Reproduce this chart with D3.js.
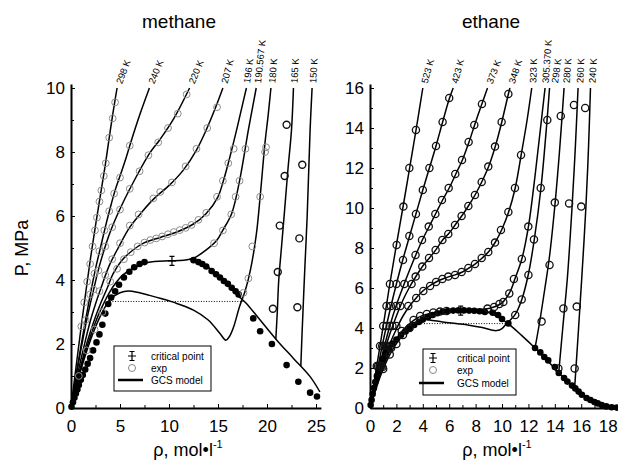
<!DOCTYPE html>
<html>
<head>
<meta charset="utf-8">
<script src="https://cdn.jsdelivr.net/npm/d3@7"></script>
<style>
  body { margin: 0; background: #fff; }
  text { font-family: "Liberation Sans", Arial, Helvetica, sans-serif; fill: #000; }
</style>
</head>
<body>
<svg id="chart" width="618" height="464"></svg>
<script>
// ---------------- methane (rho in mol/l, P in MPa) ----------------
const ch4Temps = ["298 K", "240 K", "220 K", "207 K", "196 K", "190.567 K", "180 K", "165 K", "150 K"];

const ch4_298 = [[0,0],[0.5,1.25],[1,2.45],[1.5,3.6],[2,4.7],[2.5,5.7],[3,6.65],[3.5,7.6],[4,8.65],[4.35,9.35],[4.7,10]];
const ch4_240 = [[0,0],[0.5,1.0],[1,1.9],[1.5,2.78],[2,3.6],[2.5,4.35],[3,5.0],[3.5,5.65],[4,6.25],[4.5,6.8],[5,7.25],[5.6,7.8],[6.2,8.4],[7,9.15],[8,10]];
const ch4_220 = [[0,0],[0.5,0.95],[1,1.8],[1.5,2.6],[2,3.3],[2.5,3.95],[3,4.55],[4,5.5],[5.2,6.35],[6.7,7.25],[8,7.95],[9.1,8.4],[10.5,9.05],[12.1,10]];
const ch4_207 = [[0,0],[0.5,0.8],[1,1.5],[1.5,2.15],[2,2.75],[2.5,3.25],[3.06,3.75],[3.9,4.45],[4.9,5.05],[6.0,5.65],[7.3,6.15],[8.5,6.55],[10.1,6.98],[11.5,7.45],[12.8,8.06],[13.8,8.69],[14.7,9.35],[15.5,10]];
const ch4_196 = [[0,0],[0.5,0.7],[1,1.3],[1.5,1.9],[2,2.4],[2.5,2.85],[3,3.25],[3.7,3.75],[4.3,4.2],[5.2,4.62],[6.3,4.93],[7.4,5.15],[9.1,5.33],[10.8,5.5],[12.5,5.75],[13.8,6.08],[15.0,6.6],[15.5,7.05],[16.05,7.65],[16.9,8.69],[17.4,9.35],[17.9,10]];
const ch4_190 = [[0,0],[0.5,0.66],[1,1.25],[1.5,1.78],[2,2.25],[2.5,2.68],[3,3.05],[3.9,3.6],[4.6,3.92],[5.3,4.16],[6.3,4.36],[7.5,4.52],[8.5,4.58],[10.1,4.6],[11.5,4.62],[12.5,4.68],[13.8,4.94],[14.9,5.25],[15.5,5.56],[16.4,6.08],[17.2,7.1],[18.1,8.69],[18.5,9.35],[18.9,10]];
const ch4_180 = [[0,0],[0.5,0.62],[1,1.18],[1.5,1.68],[2,2.13],[2.5,2.53],[3,2.88],[3.5,3.17],[4,3.4],[5,3.6],[5.85,3.66],[7,3.6],[8,3.52],[9.1,3.43],[10.5,3.3],[12.5,3.06],[14,2.75],[15.2,2.33],[15.8,2.12],[16.2,2.25],[16.6,2.54],[17.2,3.17],[17.8,3.69],[18.3,4.3],[18.9,5.4],[19.3,6.6],[19.8,8.3],[20.1,9.1],[20.4,10]];
const ch4_165 = [[20.9,2.15],[21.05,3.0],[21.2,4.0],[21.5,5.1],[21.8,6.2],[22.15,7.5],[22.5,8.69],[22.7,10]];
const ch4_150 = [[23.45,1.3],[23.6,2.5],[23.85,4.3],[24.1,6.0],[24.4,8.7],[24.6,10]];
const ch4Liquid = [[12.1,4.66],[13.0,4.57],[14.0,4.4],[15.0,4.15],[16.0,3.85],[17.0,3.52],[17.8,3.3],[19.3,2.75],[21.0,2.12],[22.7,1.55],[24.4,0.98],[25.4,0.5]];
const ch4Tie = [[3.7,3.33],[17.7,3.33]];
const ch4Critical = [10.3, 4.6];

// measured points
const ch4Exp298 = [[4.5,9.55],[4.25,9.05],[3.9,8.45],[3.55,7.65],[3.35,7.25],[3.1,6.8],[2.9,6.45],[2.65,5.95],[2.45,5.55],[2.2,5.05],[1.95,4.5],[1.65,3.95],[1.35,3.3],[1.05,2.55]];
const ch4Exp240 = [[6.0,8.2],[5.0,7.2],[4.4,6.7],[3.9,6.15],[3.4,5.55],[2.9,4.9],[2.4,4.2],[1.95,3.55],[1.5,2.75]];
const ch4Exp220 = [[11.8,9.8],[10.9,9.2],[9.9,8.75],[8.9,8.3],[7.9,7.9],[7.0,7.4],[6.0,6.85],[5.0,6.2],[4.2,5.65],[3.5,5.05],[2.8,4.3],[2.3,3.7]];
const ch4Exp207 = [[14.9,9.4],[13.9,8.75],[12.8,8.1],[11.7,7.55],[10.3,7.05],[9.1,6.75],[8.4,6.55],[6.9,6.05],[6.0,5.7],[5.0,5.15],[4.2,4.65],[3.5,4.15],[2.9,3.65]];
const ch4Exp196 = [[16.6,8.1],[16.05,7.65],[15.5,7.1],[14.9,6.6],[13.8,6.1],[13.0,5.88],[12.3,5.72],[11.7,5.63],[11.1,5.56],[10.5,5.5],[9.9,5.43],[9.3,5.36],[8.7,5.3],[8.1,5.25],[7.5,5.17],[6.8,5.05],[6.1,4.87],[5.4,4.65],[4.7,4.35],[4.0,3.95]];
const ch4Exp190 = [[17.8,8.1],[17.2,7.1],[16.8,6.6],[16.35,6.05],[15.5,5.55],[14.6,5.15]];
const ch4Exp180 = [[19.9,8.15],[19.8,8.0],[19.3,6.6],[18.5,5.05],[18.1,4.05],[17.6,3.6],[3.2,3.0],[2.4,2.45],[1.6,1.8],[0.8,1.0]];
const ch4Exp165 = [[22.0,8.85],[21.8,7.25],[21.3,5.7],[21.1,4.25],[20.6,3.1]];
const ch4Exp150 = [[23.6,7.6],[23.3,5.3],[23.1,3.15]];

// saturation (coexistence) data
const ch4SatVapour = [[0.05,0.04],[0.2,0.18],[0.35,0.32],[0.5,0.45],[0.65,0.58],[0.8,0.72],[1.0,0.88],[1.2,1.03],[1.45,1.2],[1.7,1.38],[1.95,1.56],[2.25,1.8],[2.6,2.05],[2.9,2.3],[3.2,2.6],[3.5,2.95],[3.8,3.25],[4.1,3.45],[4.5,3.65],[4.9,3.85],[5.4,4.08],[5.95,4.26],[6.45,4.4],[7.0,4.5],[7.5,4.56]];
const ch4SatLiquid = [[12.5,4.62],[13.0,4.56],[13.4,4.5],[13.8,4.42],[14.35,4.28],[14.8,4.18],[15.2,4.08],[15.6,3.97],[16.0,3.88],[16.4,3.76],[16.8,3.65],[17.1,3.55],[18.6,2.8],[19.3,2.4],[20.5,2.0],[22.0,1.34],[23.2,0.82],[24.4,0.48],[25.1,0.36]];

const ch4XTicks = [0, 5, 10, 15, 20, 25];
const ch4XMinor = [2.5, 7.5, 12.5, 17.5, 22.5];
const ch4YTicks = [0, 2, 4, 6, 8, 10];
const ch4YMinor = [1, 3, 5, 7, 9];

// ---------------- ethane ----------------
const c2h6Temps = ["523 K", "423 K", "373 K", "348 K", "323 K", "305.370 K", "298 K", "280 K", "260 K", "240 K"];

const c2h6_523 = [[0,0],[0.5,2.05],[1,4.1],[1.5,6.2],[2,8.15],[2.5,10.05],[3,12.0],[3.5,13.95],[4,16]];
const c2h6_423 = [[0,0],[0.5,1.72],[1,3.35],[1.5,4.85],[2,6.2],[2.5,7.45],[3,8.6],[3.5,9.75],[4,10.9],[4.5,12.0],[5,13.1],[5.5,14.3],[6,15.45],[6.3,16]];
const c2h6_373 = [[0,0],[0.5,1.5],[1,2.85],[1.5,4.1],[2,5.15],[2.5,6.05],[3,6.9],[3.5,7.7],[4,8.45],[4.5,9.1],[5,9.75],[5.5,10.4],[6,11.0],[6.5,11.7],[7,12.4],[7.5,13.3],[8,14.3],[8.5,15.25],[8.9,16]];
const c2h6_348 = [[0,0],[0.5,1.4],[1,2.65],[1.5,3.7],[2,4.6],[2.5,5.4],[3,6.05],[3.5,6.6],[4,7.1],[4.5,7.5],[5,7.92],[5.5,8.4],[6,8.75],[6.5,9.2],[7,9.65],[7.5,10.15],[8,10.7],[8.5,11.35],[9,12.1],[9.5,13.1],[10,14.35],[10.5,15.75],[10.6,16]];
const c2h6_323 = [[0,0],[0.5,1.25],[1,2.3],[1.5,3.2],[2,3.95],[2.5,4.6],[3,5.1],[3.5,5.5],[4,5.85],[4.5,6.1],[5,6.3],[5.5,6.45],[6,6.57],[6.5,6.67],[7,6.8],[7.5,7.0],[8,7.22],[8.5,7.5],[9,7.82],[9.5,8.3],[10,8.95],[10.5,9.8],[11,11.0],[11.45,12.65],[11.9,14.4],[12.25,16]];
const c2h6_305 = [[0,0],[0.5,1.15],[1,2.1],[1.5,2.85],[2,3.45],[2.5,3.9],[3,4.22],[3.5,4.47],[4,4.63],[5,4.78],[6,4.85],[6.9,4.88],[8,4.92],[9,4.98],[9.6,5.1],[10.1,5.32],[10.6,5.8],[11.0,6.5],[11.5,7.45],[12.0,9.07],[12.5,11.6],[12.9,13.9],[13.26,16]];
const c2h6_298 = [[0,0],[0.5,1.05],[1,1.95],[1.5,2.67],[2,3.22],[2.5,3.65],[3,4.02],[3.5,4.3],[3.9,4.42],[4.5,4.4],[5.5,4.3],[6.5,4.22],[7.5,4.14],[8.5,4.02],[9.2,3.9],[9.6,3.87],[10.0,3.97],[10.35,4.23],[10.7,4.45],[11.0,4.68],[11.5,5.43],[12.0,6.7],[12.45,8.45],[12.95,11.0],[13.4,14.3],[13.6,16]];
const c2h6_280 = [[12.5,3.0],[12.85,4.3],[13.25,6.0],[13.6,7.6],[14.0,10.1],[14.35,12.8],[14.7,16]];
const c2h6_260 = [[14.3,1.8],[14.6,4.0],[14.95,6.5],[15.3,10.0],[15.55,13.0],[15.76,16]];
const c2h6_240 = [[15.5,1.0],[15.75,3.5],[16.04,6.5],[16.35,10.0],[16.55,13.0],[16.7,16]];
const c2h6Liquid = [[6.9,4.88],[7.8,4.88],[8.7,4.82],[9.5,4.62],[10.4,4.25],[11.5,3.62],[12.5,3.0],[13.4,2.4],[14.3,1.75],[15.0,1.3],[15.6,0.95],[16.2,0.62],[16.8,0.37],[17.4,0.2],[18.0,0.09],[18.8,0.02]];
const c2h6Tie = [[3.3,4.22],[10.45,4.22]];
const c2h6Critical = [6.87, 4.87];

const c2h6Exp523 = [[0.51,2.1],[0.76,3.1],[1.0,4.1],[1.25,5.1],[1.51,6.2],[2.02,8.15],[2.53,10.07],[2.98,12.0],[3.48,13.9]];
const c2h6Exp423 = [[0.61,2.1],[0.92,3.1],[1.25,4.1],[1.58,5.1],[2.0,6.2],[2.5,7.4],[2.98,8.6],[3.48,9.7],[4.0,10.9],[4.5,12.0],[5.0,13.1],[5.5,14.3],[6.0,15.5]];
const c2h6Exp373 = [[0.72,2.1],[1.1,3.1],[1.5,4.1],[1.98,5.1],[2.6,6.2],[3.45,7.65],[3.94,8.4],[4.45,9.07],[4.95,9.7],[5.45,10.4],[5.96,11.0],[6.46,11.7],[6.97,12.4],[7.47,13.3],[7.9,14.15],[8.48,15.2]];
const c2h6Exp348 = [[0.78,2.1],[1.2,3.1],[1.7,4.1],[2.3,5.1],[3.15,6.2],[3.46,6.57],[3.96,7.07],[4.47,7.5],[4.97,7.9],[5.48,8.4],[5.93,8.7],[6.44,9.15],[6.94,9.6],[7.45,10.1],[7.95,10.65],[8.46,11.3],[8.96,12.07],[9.47,13.07],[9.97,14.3],[10.48,15.7]];
const c2h6Exp323 = [[0.87,2.1],[1.37,3.1],[2.0,4.1],[2.9,5.1],[3.5,5.5],[4.04,5.85],[4.55,6.1],[5.0,6.3],[5.48,6.45],[5.93,6.57],[6.44,6.65],[6.94,6.8],[7.45,7.0],[7.95,7.2],[8.46,7.5],[8.96,7.8],[9.47,8.27],[9.92,8.9],[10.48,9.8],[10.98,11.0],[11.44,12.65]];
const c2h6Exp305 = [[0.95,2.05],[1.6,3.0],[2.4,3.85],[3.3,4.4],[3.8,4.6],[4.3,4.7],[4.8,4.78],[5.3,4.82],[5.8,4.85],[8.9,4.97],[9.4,5.05],[9.8,5.2],[10.1,5.3],[10.55,5.73],[10.9,6.45],[11.5,7.45],[11.99,9.07]];
const c2h6Exp298 = [[1.0,1.95],[1.5,2.67],[2.0,3.2],[2.5,3.65],[3.0,4.0],[11.0,4.65],[11.49,5.43],[12.0,6.65],[12.42,8.43],[12.93,11.0],[13.43,14.4]];
const c2h6Exp280 = [[13.0,4.32],[13.6,7.15],[14.0,10.27],[14.45,14.6]];
const c2h6Exp260 = [[14.27,1.98],[14.65,4.98],[15.08,10.23],[15.45,15.15]];
const c2h6Exp240 = [[15.5,1.98],[15.66,5.07],[16.0,10.07],[16.3,15.0]];

const c2h6SatVapour = [[0.05,0.15],[0.12,0.4],[0.2,0.7],[0.3,1.0],[0.4,1.3],[0.52,1.6],[0.65,1.88],[0.8,2.15],[0.98,2.45],[1.2,2.75],[1.45,3.0],[1.7,3.22],[2.0,3.42],[2.35,3.65],[2.7,3.83],[3.0,3.98],[3.35,4.15],[3.7,4.3],[4.0,4.42],[4.4,4.55],[4.75,4.65],[5.1,4.74],[5.5,4.81],[5.9,4.85],[6.3,4.87],[6.7,4.88],[7.1,4.88],[7.5,4.87],[7.9,4.86],[8.3,4.84],[8.7,4.8],[9.3,4.76],[9.7,4.65]];
const c2h6SatLiquid = [[10.0,4.45],[10.48,4.23],[12.5,3.0],[12.9,2.78],[13.2,2.55],[13.5,2.38],[14.0,2.05],[14.3,1.75],[14.7,1.5],[14.95,1.32],[15.3,1.12],[15.55,0.98],[15.8,0.82],[16.05,0.66],[16.4,0.5],[16.7,0.4],[17.0,0.3],[17.25,0.23],[17.55,0.15],[17.9,0.08],[18.3,0.04],[18.7,0.02]];

const c2h6XTicks = [0, 2, 4, 6, 8, 10, 12, 14, 16, 18];
const c2h6XMinor = [1, 3, 5, 7, 9, 11, 13, 15, 17];
const c2h6YTicks = [0, 2, 4, 6, 8, 10, 12, 14, 16];
const c2h6YMinor = [1, 3, 5, 7, 9, 11, 13, 15];

// ---------------- drawing ----------------
const svg = d3.select("#chart");
const FONT = "'Liberation Sans', Arial, Helvetica, sans-serif";

function critMark(g, cx, cy) {
  g.append("path")
    .attr("d", `M${cx-4},${cy}H${cx+4}M${cx},${cy-4.5}V${cy+4.5}M${cx-2.5},${cy-4.5}H${cx+2.5}M${cx-2.5},${cy+4.5}H${cx+2.5}`)
    .attr("fill", "none").attr("stroke", "#000").attr("stroke-width", 1.2);
}

function drawPanel(p) {
  const g = svg.append("g");
  const x = d3.scaleLinear().domain(p.xDomain).range(p.xRange);
  const y = d3.scaleLinear().domain(p.yDomain).range(p.yRange);
  const line = d3.line().x(d => x(d[0])).y(d => y(d[1])).curve(d3.curveCatmullRom.alpha(0.5));

  // model isotherms
  g.selectAll("path.iso").data(p.curves).join("path")
    .attr("class", "iso").attr("d", line)
    .attr("fill", "none").attr("stroke", "#000").attr("stroke-width", 1.5);
  g.append("path").attr("d", line(p.liquid))
    .attr("fill", "none").attr("stroke", "#000").attr("stroke-width", 1.5);
  g.append("path").attr("d", d3.line().x(d => x(d[0])).y(d => y(d[1]))(p.tie))
    .attr("fill", "none").attr("stroke", "#000").attr("stroke-width", 1).attr("stroke-dasharray", "1,1.6");

  // coexistence data
  g.selectAll("circle.sat").data(p.sat).join("circle")
    .attr("class", "sat").attr("cx", d => x(d[0])).attr("cy", d => y(d[1])).attr("r", 3.3)
    .attr("fill", "#000");

  // measured isotherm points
  p.exp.forEach(set => {
    g.selectAll(null).data(set.pts).join("circle")
      .attr("cx", d => x(d[0])).attr("cy", d => y(d[1])).attr("r", set.r)
      .attr("fill", "none").attr("stroke", set.color).attr("stroke-width", set.w);
  });

  critMark(g, x(p.crit[0]), y(p.crit[1]));

  // axes
  const x0 = p.yRange[0];
  g.append("g").attr("transform", `translate(0,${x0})`)
    .call(d3.axisBottom(x).tickValues(p.xMinor).tickSize(-3).tickFormat(""))
    .call(s => s.select(".domain").remove())
    .call(s => s.selectAll("line").attr("stroke-width", 1));
  g.append("g").attr("transform", `translate(${p.xRange[0]},0)`)
    .call(d3.axisLeft(y).tickValues(p.yMinor).tickSize(-3).tickFormat(""))
    .call(s => s.select(".domain").remove())
    .call(s => s.selectAll("line").attr("stroke-width", 1));
  const xa = g.append("g").attr("transform", `translate(0,${x0})`)
    .call(d3.axisBottom(x).tickValues(p.xTicks).tickSize(-4).tickSizeOuter(0).tickPadding(12).tickFormat(d3.format("d")));
  const ya = g.append("g").attr("transform", `translate(${p.xRange[0]},0)`)
    .call(d3.axisLeft(y).tickValues(p.yTicks).tickSize(-4).tickSizeOuter(0).tickPadding(6).tickFormat(d3.format("d")));
  [xa, ya].forEach(a => {
    a.select(".domain").attr("stroke-width", 2);
    a.selectAll("line").attr("stroke-width", 1);
    a.selectAll("text").attr("font-size", 17).attr("font-family", FONT).attr("fill", "#000");
  });

  // isotherm labels at the top end of each curve
  p.curves.forEach((c, i) => {
    const top = c[c.length - 1];
    const a = p.labelAngles[i] * Math.PI / 180;
    const tx = x(top[0]) + 5 * Math.cos(a) + p.labelShift[i], ty = y(top[1]) + 5 * Math.sin(a);
    g.append("text").attr("transform", `translate(${tx},${ty}) rotate(${p.labelAngles[i]})`)
      .attr("dy", "0.35em").attr("font-size", 9.5).text(p.labels[i]);
  });

  // title and axis label
  g.append("text").attr("x", p.titleX).attr("y", 28).attr("text-anchor", "middle")
    .attr("font-size", 19).text(p.title);
  const xl = g.append("text").attr("x", p.xLabelX).attr("y", 456).attr("text-anchor", "middle").attr("font-size", 18);
  xl.append("tspan").text("\u03c1, mol\u2022l");
  xl.append("tspan").attr("font-size", 11).attr("dy", -8).text("-1");

  // legend
  const L = p.legend;
  const lg = g.append("g").attr("transform", `translate(${L.x},${L.y})`);
  lg.append("rect").attr("width", L.w).attr("height", L.h).attr("fill", "#fff").attr("stroke", "#000").attr("stroke-width", 1);
  critMark(lg, L.sym, L.rows[0]);
  lg.append("circle").attr("cx", L.sym).attr("cy", L.rows[1]).attr("r", 3.5).attr("fill", "none").attr("stroke", "#888").attr("stroke-width", 1);
  lg.append("line").attr("x1", L.sym - 14).attr("x2", L.sym + 11).attr("y1", L.rows[2]).attr("y2", L.rows[2]).attr("stroke", "#000").attr("stroke-width", 2.5);
  ["critical point", "exp", "GCS model"].forEach((t, i) =>
    lg.append("text").attr("x", L.text).attr("y", L.rows[i]).attr("dy", "0.35em").attr("font-size", 10).text(t));
}

const GRAY = "#8c8c8c", BLACK = "#111";

drawPanel({
  title: "methane", titleX: 179, xLabelX: 188,
  xDomain: [0, 25.5], xRange: [71, 320.9], yDomain: [0, 10.125], yRange: [408, 84],
  xTicks: ch4XTicks, xMinor: ch4XMinor, yTicks: ch4YTicks, yMinor: ch4YMinor,
  curves: [ch4_298, ch4_240, ch4_220, ch4_207, ch4_196, ch4_190, ch4_180, ch4_165, ch4_150],
  labels: ch4Temps, labelAngles: [-69, -68, -68, -75, -82, -84, -85, -87, -87],
  labelShift: [0, 0, 0, 0, -0.5, 1, 0.5, 0.5, 0.5],
  liquid: ch4Liquid, tie: ch4Tie, crit: ch4Critical,
  sat: ch4SatVapour.concat(ch4SatLiquid),
  exp: [
    { pts: ch4Exp298, color: GRAY, r: 3.4, w: 1 }, { pts: ch4Exp240, color: GRAY, r: 3.4, w: 1 },
    { pts: ch4Exp220, color: GRAY, r: 3.4, w: 1 }, { pts: ch4Exp207, color: GRAY, r: 3.4, w: 1 },
    { pts: ch4Exp196, color: GRAY, r: 3.4, w: 1 }, { pts: ch4Exp190, color: GRAY, r: 3.4, w: 1 },
    { pts: ch4Exp180, color: GRAY, r: 3.4, w: 1 },
    { pts: ch4Exp165, color: BLACK, r: 3.5, w: 1.4 }, { pts: ch4Exp150, color: BLACK, r: 3.5, w: 1.4 }
  ],
  legend: { x: 114, y: 346, w: 97, h: 45, sym: 18, text: 37, rows: [10, 22, 34] }
});

drawPanel({
  title: "ethane", titleX: 491, xLabelX: 497,
  xDomain: [0, 18.8], xRange: [370, 618.2], yDomain: [0, 16.2], yRange: [408, 84],
  xTicks: c2h6XTicks, xMinor: c2h6XMinor, yTicks: c2h6YTicks, yMinor: c2h6YMinor,
  curves: [c2h6_523, c2h6_423, c2h6_373, c2h6_348, c2h6_323, c2h6_305, c2h6_298, c2h6_280, c2h6_260, c2h6_240],
  labels: c2h6Temps, labelAngles: [-74, -75, -69, -72, -88, -86, -82, -86, -87, -87],
  labelShift: [0, 0, 0, 0, 1, 0, 4.5, 2, 1.5, 1.5],
  liquid: c2h6Liquid, tie: c2h6Tie, crit: c2h6Critical,
  sat: c2h6SatVapour.concat(c2h6SatLiquid),
  exp: [c2h6Exp523, c2h6Exp423, c2h6Exp373, c2h6Exp348, c2h6Exp323, c2h6Exp305, c2h6Exp298, c2h6Exp280, c2h6Exp260, c2h6Exp240]
    .map(pts => ({ pts, color: BLACK, r: 3.6, w: 1.3 })),
  legend: { x: 423, y: 349, w: 93, h: 46, sym: 10, text: 34, rows: [9, 21, 34] }
});

// shared y label
svg.append("text").attr("transform", "translate(28,248) rotate(-90)").attr("text-anchor", "middle")
  .attr("font-size", 18).text("P, MPa");
</script>
</body>
</html>
